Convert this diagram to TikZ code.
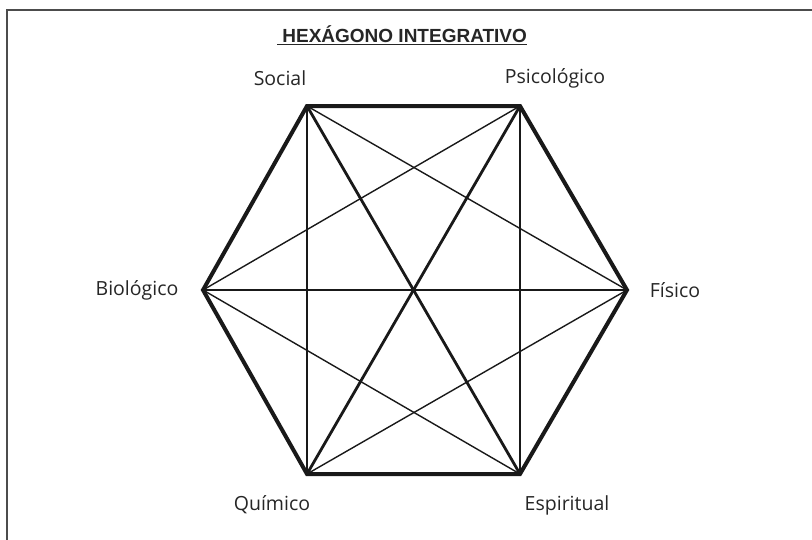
\documentclass[tikz,border=0pt]{standalone}
\usepackage{fontspec}
\setmainfont{Open Sans}
\newfontfamily\titlefont{Liberation Sans}
\begin{document}
\begin{tikzpicture}[x=1pt,y=-1pt,
  edge/.style={line width=4pt,line join=miter,black!90},
  thickdiag/.style={line width=2.8pt,black!90},
  thindiag/.style={line width=1.4pt,black!90},
  lbl/.style={font=\fontsize{19.5}{22}\selectfont,text=black!85,inner sep=0pt}]
\useasboundingbox (0,0) rectangle (812,539);
\draw[line width=2pt,black!70] (7,560) -- (7,10) -- (830,10);
\coordinate (So) at (307,106);
\coordinate (Ps) at (520,106);
\coordinate (Fi) at (627,290);
\coordinate (Es) at (520,474);
\coordinate (Qu) at (307,474);
\coordinate (Bi) at (203,290);
% thin lines
\draw[thindiag] (So) -- (Qu);
\draw[thindiag] (So) -- (Fi);
\draw[thindiag] (Ps) -- (Bi);
\draw[thindiag] (Ps) -- (Es);
\draw[thindiag] (Bi) -- (Es);
\draw[thindiag] (Fi) -- (Qu);
\draw[thindiag] (Bi) -- (Fi);
% thick diagonals
\draw[thickdiag] (So) -- (Es);
\draw[thickdiag] (Ps) -- (Qu);
% hexagon
\draw[edge] (So) -- (Ps) -- (Fi) -- (Es) -- (Qu) -- (Bi) -- cycle;
% labels
\node[lbl] (lSo) at (280,78) {Social};
\node[lbl] (lPs) at (555,78) {Psicológico};
\node[lbl] (lFi) at (675,290) {Físico};
\node[lbl] (lEs) at (567,505) {Espiritual};
\node[lbl] (lQu) at (272,505) {Químico};
\node[lbl] (lBi) at (137,290) {Biológico};
\node[inner sep=0pt,font=\titlefont\bfseries\fontsize{19}{22}\selectfont,text=black!85] (title) at (402,35) {\underline{ HEXÁGONO INTEGRATIVO}};
\end{tikzpicture}
\end{document}
